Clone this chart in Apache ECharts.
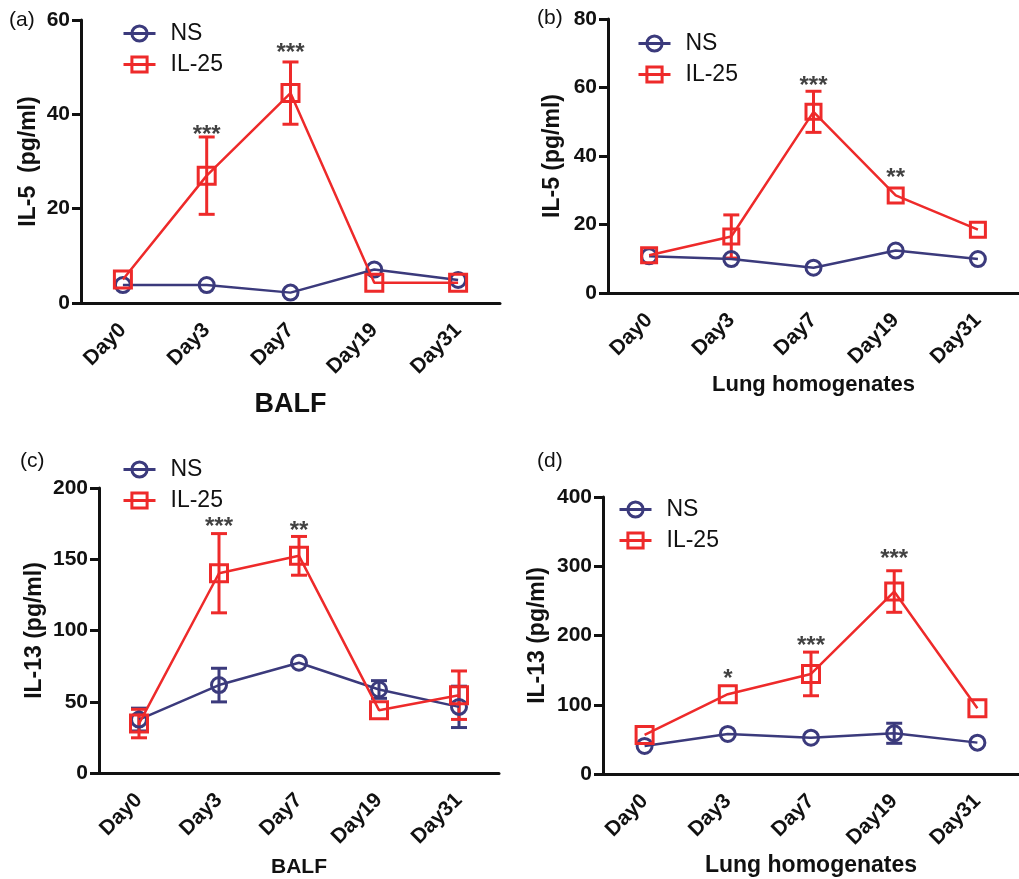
<!DOCTYPE html>
<html>
<head>
<meta charset="utf-8">
<script src="https://cdn.jsdelivr.net/npm/echarts@6/dist/echarts.min.js"></script>
<style>
html,body{margin:0;padding:0;background:#fff;}
#chart{width:1019px;height:879px;}
</style>
</head>
<body>
<div id="chart"></div>
<script>
// ---- data ----
var categories = ['Day0', 'Day3', 'Day7', 'Day19', 'Day31'];

// (a) IL-5, BALF
var aNS = [3.8, 3.8, 2.2, 7.1, 4.9];
var aNSErr = [0, 0, 0, 0, 0];
var aIL = [5.0, 27.0, 44.5, 4.3, 4.3];
var aILErr = [0, 8.2, 6.6, 0, 0];
var aStars = ['', '***', '***', '', ''];
var aStarY = [null, 36.9, 54.3, null, null];

// (b) IL-5, Lung homogenates
var bNS = [10.7, 9.9, 7.4, 12.4, 9.9];
var bNSErr = [0, 0, 0, 0, 0];
var bIL = [11.0, 16.5, 52.9, 28.5, 18.5];
var bILErr = [0, 6.3, 6.0, 0, 0];
var bStars = ['', '', '***', '**', ''];
var bStarY = [null, null, 62.2, 35.1, null];

// (c) IL-13, BALF
var cNS = [37.5, 61.7, 77.4, 58.6, 46.4];
var cNSErr = [8, 11.8, 0, 6.2, 14.5];
var cIL = [34.7, 140.2, 152.4, 44.1, 54.6];
var cILErr = [10, 27.8, 13.6, 0, 17];
var cStars = ['', '***', '**', '', ''];
var cStarY = [null, 176.5, 173.5, null, null];

// (d) IL-13, Lung homogenates
var dNS = [40.5, 57.8, 52.5, 58.8, 45.3];
var dNSErr = [0, 0, 0, 14.5, 0];
var dIL = [56.4, 115.2, 144.5, 263.5, 94.9];
var dILErr = [0, 0, 31.5, 30, 0];
var dStars = ['', '*', '***', '***', ''];
var dStarY = [null, 146, 193.6, 317.9, null];

// y-axis ticks
var yMax = [60, 80, 200, 400];
var yInterval = [20, 20, 50, 100];
var yNames = ['IL-5  (pg/ml)', 'IL-5 (pg/ml)', 'IL-13 (pg/ml)', 'IL-13 (pg/ml)'];
var xNames = ['BALF', 'Lung homogenates', 'BALF', 'Lung homogenates'];
var panelLabels = ['(a)', '(b)', '(c)', '(d)'];

// ---- styling / layout ----
var NAVY = '#3b3a7c';
var RED = '#ee2a2a';
var FONT = 'Liberation Sans, Arial, sans-serif';

var grids = [
  {left: 81, top: 20, width: 419, height: 283},
  {left: 608, top: 19, width: 417, height: 274},
  {left: 99, top: 488, width: 400, height: 285},
  {left: 603, top: 497, width: 425, height: 277}
];
var yNameGap = [41, 44, 53, 54];
var xNameGap = [88, 81, 84, 80];
var xNameSize = [27, 22, 21, 23];
var legendPos = [
  {left: 117, top: 17}, {left: 632, top: 27}, {left: 117, top: 453}, {left: 613, top: 493}
];
var labelPos = [[9, 10], [537, 8], [20, 451], [537, 451]];
var sqSize = [17, 15, 17, 17];

var panels = [
  {ns: aNS, nsErr: aNSErr, il: aIL, ilErr: aILErr, stars: aStars, starY: aStarY},
  {ns: bNS, nsErr: bNSErr, il: bIL, ilErr: bILErr, stars: bStars, starY: bStarY},
  {ns: cNS, nsErr: cNSErr, il: cIL, ilErr: cILErr, stars: cStars, starY: cStarY},
  {ns: dNS, nsErr: dNSErr, il: dIL, ilErr: dILErr, stars: dStars, starY: dStarY}
];

function makeErrRender(color) {
  return function (params, api) {
    var x = api.value(0), y = api.value(1), e = api.value(2);
    if (!e) return null;
    var top = api.coord([x, y + e]);
    var bot = api.coord([x, y - e]);
    var hw = 8;
    var st = {stroke: color, lineWidth: 3};
    return {
      type: 'group',
      children: [
        {type: 'line', shape: {x1: top[0], y1: top[1], x2: bot[0], y2: bot[1]}, style: st},
        {type: 'line', shape: {x1: top[0] - hw, y1: top[1], x2: top[0] + hw, y2: top[1]}, style: st},
        {type: 'line', shape: {x1: bot[0] - hw, y1: bot[1], x2: bot[0] + hw, y2: bot[1]}, style: st}
      ]
    };
  };
}

var xAxes = [], yAxes = [], series = [], legends = [], graphics = [];

panels.forEach(function (p, k) {
  xAxes.push({
    type: 'category', gridIndex: k, data: categories, boundaryGap: true,
    name: xNames[k], nameLocation: 'middle', nameGap: xNameGap[k],
    nameTextStyle: {fontFamily: FONT, fontWeight: 'bold', fontSize: xNameSize[k], color: '#111'},
    axisLine: {lineStyle: {color: '#111', width: 3}},
    axisTick: {alignWithLabel: true, length: 9, lineStyle: {width: 3, color: '#111'}},
    axisLabel: {rotate: 45, margin: 24, fontFamily: FONT, fontWeight: 'bold', fontSize: 21, color: '#111'},
    splitLine: {show: false}
  });
  yAxes.push({
    type: 'value', gridIndex: k, min: 0, max: yMax[k], interval: yInterval[k],
    name: yNames[k], nameLocation: 'middle', nameGap: yNameGap[k], nameRotate: 90,
    nameTextStyle: {fontFamily: FONT, fontWeight: 'bold', fontSize: 23, color: '#111'},
    axisLine: {show: true, lineStyle: {color: '#111', width: 3}},
    axisTick: {show: true, length: 9, lineStyle: {width: 3, color: '#111'}},
    axisLabel: {margin: 11, fontFamily: FONT, fontWeight: 'bold', fontSize: 21, color: '#111'},
    splitLine: {show: false}
  });

  series.push({
    type: 'custom', name: 'NS error', xAxisIndex: k, yAxisIndex: k, z: 1,
    renderItem: makeErrRender(NAVY),
    data: p.ns.map(function (v, i) { return [i, v, p.nsErr[i]]; }),
    itemStyle: {color: NAVY},
    silent: true, tooltip: {show: false}
  });
  series.push({
    type: 'custom', name: 'IL-25 error', xAxisIndex: k, yAxisIndex: k, z: 1,
    renderItem: makeErrRender(RED),
    data: p.il.map(function (v, i) { return [i, v, p.ilErr[i]]; }),
    itemStyle: {color: RED},
    silent: true, tooltip: {show: false}
  });
  series.push({
    type: 'line', name: 'NS', xAxisIndex: k, yAxisIndex: k, z: 3,
    data: p.ns, symbol: 'circle', symbolSize: 15,
    lineStyle: {color: NAVY, width: 2.5},
    itemStyle: {color: 'rgba(255,255,255,0)', borderColor: NAVY, borderWidth: 3},
    animation: false
  });
  series.push({
    type: 'line', name: 'IL-25', xAxisIndex: k, yAxisIndex: k, z: 4,
    data: p.il, symbol: 'rect', symbolSize: sqSize[k],
    lineStyle: {color: RED, width: 2.5},
    itemStyle: {color: 'rgba(255,255,255,0)', borderColor: RED, borderWidth: 3},
    animation: false
  });
  series.push({
    type: 'scatter', name: 'sig' + k, xAxisIndex: k, yAxisIndex: k, z: 5,
    symbolSize: 1, itemStyle: {color: 'rgba(0,0,0,0)'},
    data: p.starY.map(function (v, i) { return v == null ? null : {value: [i, v], label: {formatter: p.stars[i]}}; })
      .filter(function (d) { return d; }),
    label: {show: true, position: 'inside', offset: [0, 6], fontFamily: FONT, fontWeight: 'bold', fontSize: 24, color: '#111'},
    silent: true, animation: false
  });

  legends.push({
    data: ['NS', 'IL-25'], orient: 'vertical', left: legendPos[k].left, top: legendPos[k].top,
    itemWidth: 32, itemHeight: 19, itemGap: 8,
    textStyle: {fontFamily: FONT, fontSize: 23, color: '#111', padding: [0, 0, 0, 10]},
    lineStyle: {width: 3},
    itemStyle: {borderWidth: 3},
    selectedMode: false
  });
  graphics.push({
    type: 'text', left: labelPos[k][0], top: labelPos[k][1],
    style: {text: panelLabels[k], font: '21px ' + FONT, fill: '#111'}
  });
});

var chart = echarts.init(document.getElementById('chart'));
chart.setOption({
  animation: false,
  backgroundColor: '#fff',
  grid: grids,
  xAxis: xAxes,
  yAxis: yAxes,
  legend: legends,
  series: series,
  graphic: graphics
});
</script>
</body>
</html>
